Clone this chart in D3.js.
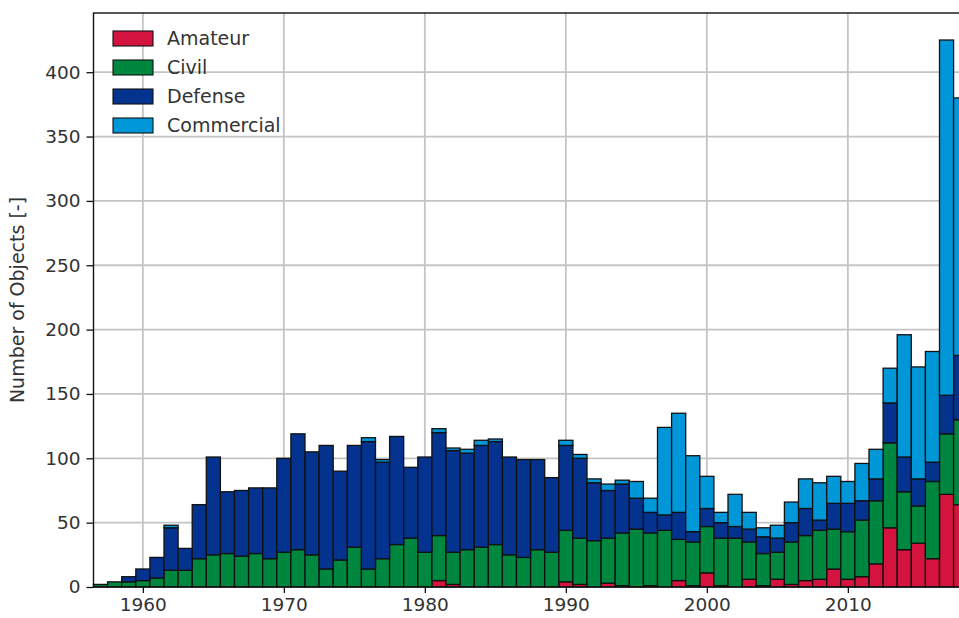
<!DOCTYPE html>
<html>
<head>
<meta charset="utf-8">
<script src="https://cdn.jsdelivr.net/npm/d3@7"></script>
<style>
  html, body { margin: 0; padding: 0; background: #fff; }
  svg { display: block; font-family: "DejaVu Sans", Verdana, sans-serif; }
</style>
</head>
<body>
<svg id="chart" width="959" height="618"></svg>
<script>
// Launched objects per year, stacked by mission type
const years = d3.range(1957, 2019);

const amateur = [
  0, 0, 0, 0, 0, 0, 0, 0, 0, 0,
  0, 0, 0, 0, 0, 0, 0, 0, 0, 0,
  0, 0, 0, 0, 5, 2, 0, 0, 0, 0,
  0, 0, 0, 4, 2, 0, 3, 1, 0, 1,
  0, 5, 1, 11, 1, 0, 6, 1, 6, 2,
  5, 6, 14, 6, 8, 18, 46, 29, 34, 22,
  72, 64
];
const civil = [
  2, 4, 4, 5, 7, 13, 13, 22, 25, 26,
  24, 26, 22, 27, 29, 25, 14, 21, 31, 14,
  22, 33, 38, 27, 35, 25, 29, 31, 33, 25,
  23, 29, 27, 40, 36, 36, 35, 41, 45, 41,
  44, 32, 34, 36, 37, 38, 29, 25, 21, 33,
  35, 38, 31, 37, 44, 49, 66, 45, 29, 60,
  47, 66
];
const defense = [
  0, 0, 4, 9, 16, 33, 17, 42, 76, 48,
  51, 51, 55, 73, 90, 80, 96, 69, 79, 99,
  75, 84, 55, 74, 80, 79, 75, 79, 80, 76,
  76, 70, 58, 66, 62, 45, 37, 38, 24, 16,
  12, 21, 8, 14, 12, 9, 10, 13, 11, 15,
  21, 8, 20, 22, 15, 17, 31, 27, 21, 15,
  30, 50
];
const commercial = [
  0, 0, 0, 0, 0, 2, 0, 0, 0, 0,
  0, 0, 0, 0, 0, 0, 0, 0, 0, 3,
  2, 0, 0, 0, 3, 2, 3, 4, 2, 0,
  0, 0, 0, 4, 3, 3, 5, 3, 13, 11,
  68, 77, 59, 25, 8, 25, 13, 7, 10, 16,
  23, 29, 21, 17, 29, 23, 27, 95, 87, 86,
  276, 200
];

const seriesNames = ["Amateur", "Civil", "Defense", "Commercial"];
const seriesColors = ["#d4133f", "#00873f", "#03338f", "#0097d8"];
const xTicks = [1960, 1970, 1980, 1990, 2000, 2010];
const yTicks = [0, 50, 100, 150, 200, 250, 300, 350, 400];

// table for the stack layout
const table = years.map((yr, i) => ({
  year: yr,
  Amateur: amateur[i],
  Civil: civil[i],
  Defense: defense[i],
  Commercial: commercial[i]
}));

const svg = d3.select("#chart");
const plot = { left: 93.5, top: 13, bottom: 587 };
const pxPerYear = 14.1;
const yearMin = 1956.5, yearMax = 2019.5;

const x = d3.scaleLinear()
  .domain([yearMin, yearMax])
  .range([plot.left, plot.left + (yearMax - yearMin) * pxPerYear]);
const y = d3.scaleLinear().domain([0, 446]).range([plot.bottom, plot.top]);
const color = d3.scaleOrdinal().domain(seriesNames).range(seriesColors);

const plotRight = x.range()[1];
const textColor = "#333";

// grid
const grid = svg.append("g");
grid.selectAll("line.gx").data(xTicks).join("line")
  .attr("x1", d => x(d)).attr("x2", d => x(d))
  .attr("y1", plot.top).attr("y2", plot.bottom)
  .attr("stroke", "#c4c4c4").attr("stroke-width", 1.8);
grid.selectAll("line.gy").data(yTicks.filter(d => d > 0)).join("line")
  .attr("x1", plot.left).attr("x2", plotRight)
  .attr("y1", d => y(d)).attr("y2", d => y(d))
  .attr("stroke", "#c4c4c4").attr("stroke-width", 1.8);

// stacked bars
const stacked = d3.stack().keys(seriesNames)(table);
svg.append("g").selectAll("g").data(stacked).join("g")
  .attr("fill", d => color(d.key))
  .selectAll("rect")
  .data(d => d.filter(s => s[1] - s[0] > 0))
  .join("rect")
  .attr("x", d => x(d.data.year - 0.5))
  .attr("width", d => x(d.data.year + 0.5) - x(d.data.year - 0.5))
  .attr("y", d => y(d[1]))
  .attr("height", d => y(d[0]) - y(d[1]))
  .attr("stroke", "#111")
  .attr("stroke-width", 1.3);

// frame
svg.append("rect")
  .attr("x", plot.left).attr("y", plot.top)
  .attr("width", plotRight - plot.left).attr("height", plot.bottom - plot.top)
  .attr("fill", "none").attr("stroke", "#111").attr("stroke-width", 1.4);

// axes
const yAxis = svg.append("g")
  .attr("transform", `translate(${plot.left},0)`)
  .call(d3.axisLeft(y).tickValues(yTicks).tickSize(7).tickPadding(6));
const xAxis = svg.append("g")
  .attr("transform", `translate(0,${plot.bottom})`)
  .call(d3.axisBottom(x).tickValues(xTicks).tickFormat(d3.format("d")).tickSize(6).tickPadding(5));
[yAxis, xAxis].forEach(ax => {
  ax.select(".domain").remove();
  ax.selectAll(".tick line").attr("stroke", "#111").attr("stroke-width", 1.3);
  ax.selectAll(".tick text")
    .attr("fill", textColor)
    .style("font-size", "18.5px")
    .style("font-family", "'DejaVu Sans', Verdana, sans-serif");
});

// y axis title
svg.append("text")
  .attr("transform", `translate(24,${(plot.top + plot.bottom) / 2}) rotate(-90)`)
  .attr("text-anchor", "middle")
  .attr("fill", textColor)
  .style("font-size", "19px")
  .text("Number of Objects [-]");

// legend
const legend = svg.append("g").attr("transform", "translate(113,31)");
const rowH = 29;
const item = legend.selectAll("g").data(seriesNames).join("g")
  .attr("transform", (d, i) => `translate(0,${i * rowH})`);
item.append("rect")
  .attr("width", 40).attr("height", 15)
  .attr("fill", d => color(d))
  .attr("stroke", "#111").attr("stroke-width", 1.1);
item.append("text")
  .attr("x", 54).attr("y", 7.5).attr("dy", "0.36em")
  .attr("fill", textColor)
  .style("font-size", "19px")
  .text(d => d);
</script>
</body>
</html>
